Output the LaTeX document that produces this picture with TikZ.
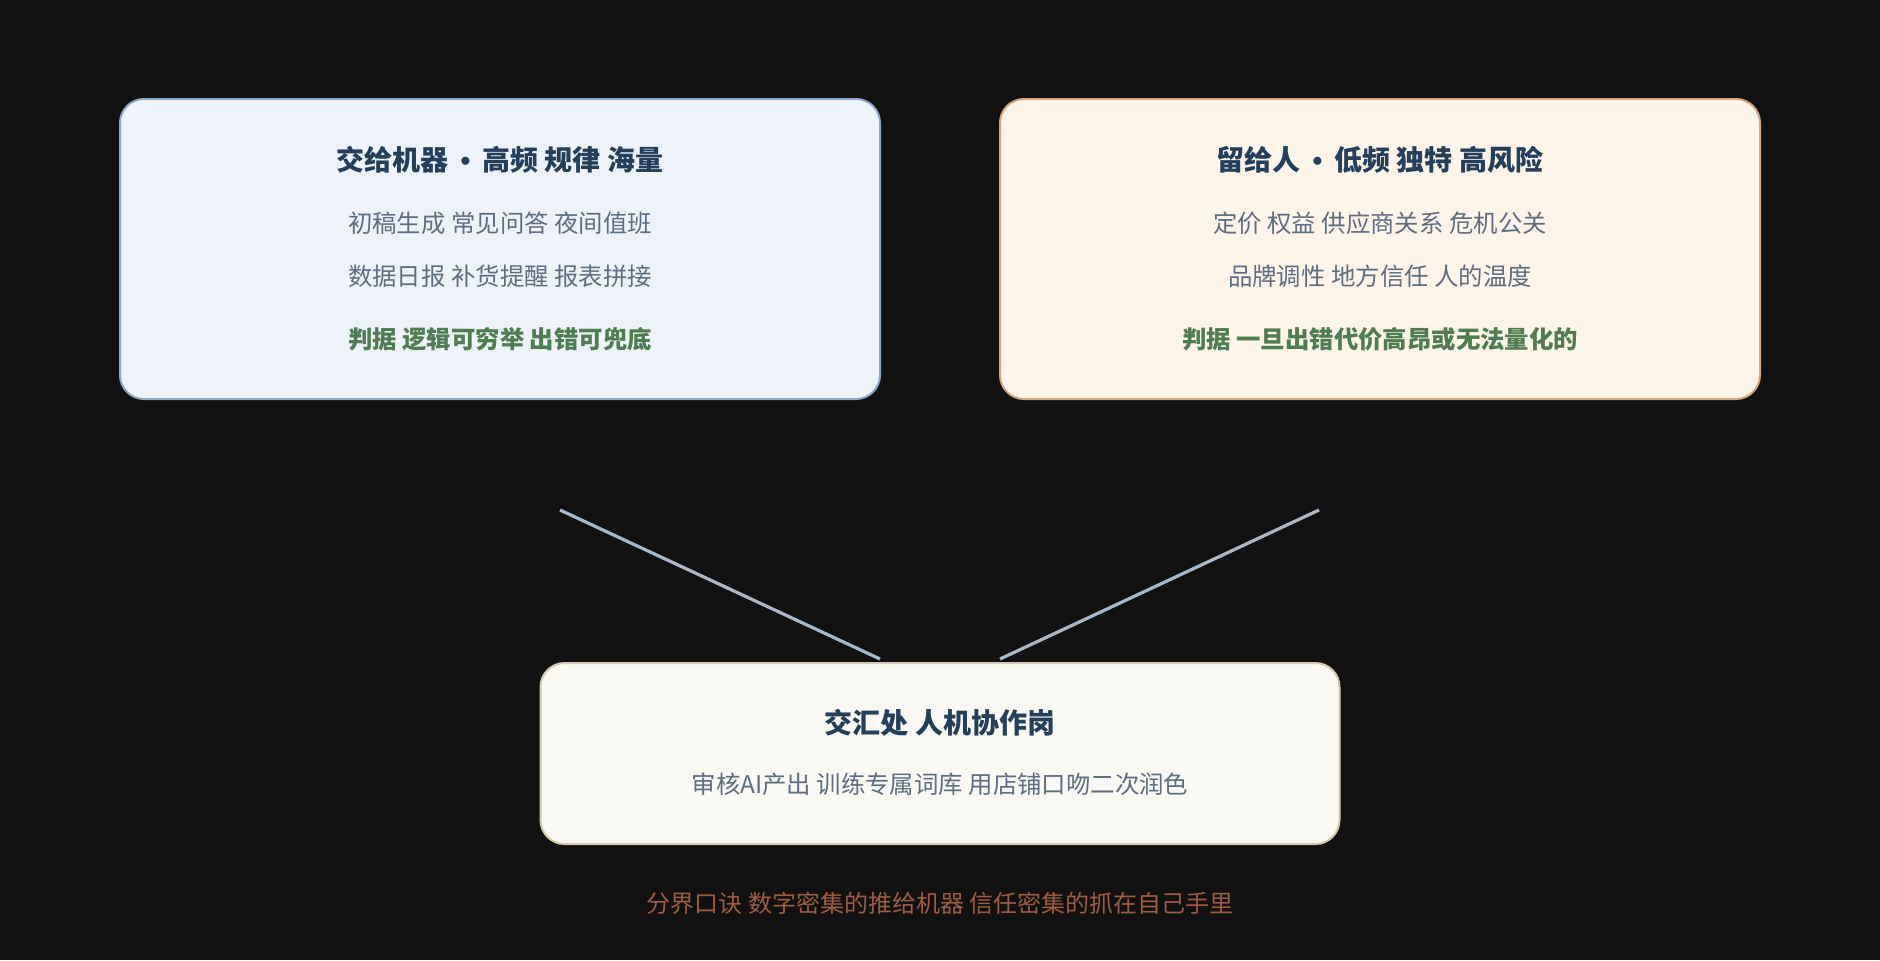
\documentclass[tikz,border=0pt]{standalone}
\usepackage{fontspec}
\setmainfont{Noto Sans CJK SC}
\newfontfamily\dotfont{Liberation Sans}
\newcommand{\sepdot}{{\dotfont\bfseries\kern.42em•\kern.42em}}
\definecolor{bgdark}{HTML}{111111}
\definecolor{machfill}{HTML}{EEF3FA}
\definecolor{machdraw}{HTML}{8CA8CB}
\definecolor{humfill}{HTML}{FDF5EA}
\definecolor{humdraw}{HTML}{D9A57A}
\definecolor{midfill}{HTML}{FAF9F4}
\definecolor{middraw}{HTML}{D6CAAE}
\definecolor{titlecol}{HTML}{233F5C}
\definecolor{bodycol}{HTML}{5E6E82}
\definecolor{rulecol}{HTML}{4E7D4F}
\definecolor{linkcol}{HTML}{A7B8C9}
\definecolor{footcol}{HTML}{9E5C40}
\begin{document}
\begin{tikzpicture}[x=0.5pt,y=-0.5pt,
    panel/.style={rounded corners=12pt,line width=1pt,minimum width=380pt,minimum height=150pt},
    ttl/.style={text=titlecol,font=\fontsize{14pt}{16pt}\selectfont\bfseries},
    txt/.style={text=bodycol,font=\fontsize{12.2pt}{14pt}\selectfont},
    rule/.style={text=rulecol,font=\fontsize{12.2pt}{14pt}\selectfont\bfseries},
    motto/.style={text=footcol,font=\fontsize{12pt}{14pt}\selectfont},
    link/.style={linkcol,line width=1.6pt}]
        \fill[bgdark] (0,0) rectangle (1880,960);
        \useasboundingbox (0,0) rectangle (1880,960);
        \draw (500,249) node[panel,fill=machfill,draw=machdraw](mach){};
        \draw (1380,249) node[panel,fill=humfill,draw=humdraw](hum){};
        \draw (940,753.5) node[panel,fill=midfill,draw=middraw,minimum width=399.5pt,minimum height=90.5pt](meet){};
        \draw (500,159.5) node[ttl](machT){交给机器\sepdot 高频 规律 海量};
        \draw (500,223) node[txt](machA){初稿生成 常见问答 夜间值班};
        \draw (500,276) node[txt](machB){数据日报 补货提醒 报表拼接};
        \draw (500,339) node[rule](machR){判据 逻辑可穷举 出错可兜底};
        \draw (1380,159.5) node[ttl](humT){留给人\sepdot 低频 独特 高风险};
        \draw (1380,223) node[txt](humA){定价 权益 供应商关系 危机公关};
        \draw (1380,276) node[txt](humB){品牌调性 地方信任 人的温度};
        \draw (1380,339) node[rule](humR){判据 一旦出错代价高昂或无法量化的};
        \draw (940,723) node[ttl](meetT){交汇处 人机协作岗};
        \draw (940,784) node[txt](meetA){审核AI产出 训练专属词库 用店铺口吻二次润色};
        \draw (940,903) node[motto](foot){分界口诀 数字密集的推给机器 信任密集的抓在自己手里};
        \coordinate (machEnd) at (560,510);
        \coordinate (humEnd) at (1319,510);
        \coordinate (meetL) at (880,659);
        \coordinate (meetR) at (1000,659);
        \draw[link]
          (machEnd) -- (meetL)
          (humEnd) -- (meetR)
        ;
      \end{tikzpicture}
\end{document}
